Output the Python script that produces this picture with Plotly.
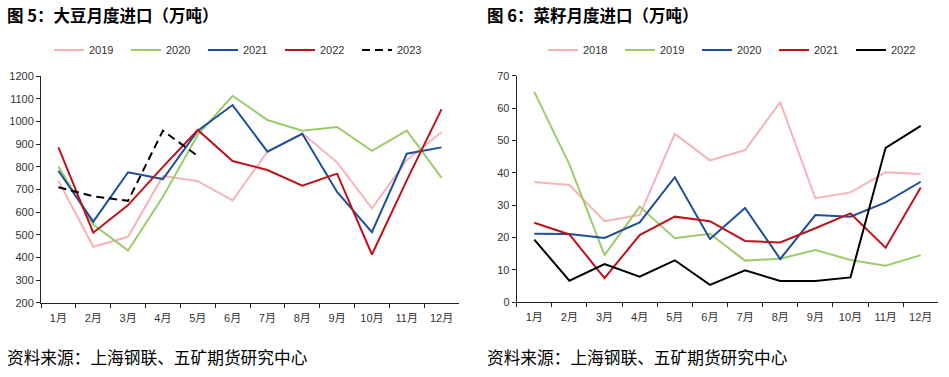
import plotly.graph_objects as go

months = ["1月", "2月", "3月", "4月", "5月", "6月", "7月", "8月", "9月", "10月", "11月", "12月"]

# 图5 大豆月度进口（万吨）
soy_2019 = [739, 447, 491, 760, 737, 652, 867, 948, 820, 617, 830, 954]
soy_2020 = [801, 545, 430, 668, 941, 1114, 1007, 960, 976, 871, 960, 751]
soy_2021 = [783, 558, 776, 746, 960, 1073, 867, 946, 689, 512, 858, 886]
soy_2022 = [886, 509, 631, 800, 963, 826, 786, 717, 770, 413, 740, 1055]
soy_2023 = [710, 670, 650, 960, 848]

# 图6 菜籽月度进口（万吨）
rape_2018 = [37.1, 36.2, 25.0, 26.9, 52.0, 43.8, 47.0, 61.8, 32.1, 33.9, 40.1, 39.6]
rape_2019 = [65.0, 42.6, 14.5, 29.5, 19.7, 21.1, 12.8, 13.4, 16.1, 13.0, 11.2, 14.5]
rape_2020 = [21.1, 21.0, 19.8, 24.6, 38.6, 19.5, 29.1, 13.3, 26.9, 26.4, 30.8, 37.2]
rape_2021 = [24.5, 20.9, 7.4, 20.7, 26.4, 25.0, 18.9, 18.4, 22.8, 27.4, 16.8, 35.4]
rape_2022 = [19.3, 6.6, 11.7, 7.8, 12.9, 5.3, 9.8, 6.5, 6.5, 7.6, 47.7, 54.5]

PINK = "#F5B4B7"
GREEN = "#9CCB6C"
BLUE = "#1F4E9A"
RED = "#C0121B"
BLACK = "#000000"

fig = go.Figure()

left = [("2019", soy_2019, PINK, None), ("2020", soy_2020, GREEN, None),
        ("2021", soy_2021, BLUE, None), ("2022", soy_2022, RED, None),
        ("2023", soy_2023, BLACK, "8px,5px")]
for name, vals, col, dash in left:
    fig.add_trace(go.Scatter(x=months[:len(vals)], y=vals, name=name, mode="lines",
                             line=dict(color=col, width=2, dash=dash),
                             xaxis="x", yaxis="y", legend="legend"))

right = [("2018", rape_2018, PINK), ("2019", rape_2019, GREEN), ("2020", rape_2020, BLUE),
         ("2021", rape_2021, RED), ("2022", rape_2022, BLACK)]
for name, vals, col in right:
    fig.add_trace(go.Scatter(x=months, y=vals, name=name, mode="lines",
                             line=dict(color=col, width=2),
                             xaxis="x2", yaxis="y2", legend="legend2"))

W, H = 949, 377
def px_x(p):
    return p / W
def px_y(p):
    return 1 - p / H

tickfont = dict(family="Liberation Sans, Arial, Noto Sans CJK SC", size=11, color="#333333")
axis_common = dict(showgrid=False, zeroline=False, showline=True, linecolor="#222222", linewidth=1,
                   ticks="outside", ticklen=4, tickcolor="#222222", tickfont=tickfont,
                   fixedrange=True, automargin=False)

legend_common = dict(orientation="h", xanchor="left", yanchor="middle",
                     entrywidth=32, entrywidthmode="pixels", bgcolor="rgba(0,0,0,0)",
                     borderwidth=0, tracegroupgap=0,
                     font=dict(family="Liberation Sans, Arial", size=11, color="#333333"))

fig.update_layout(
    width=W, height=H,
    margin=dict(l=0, r=0, t=0, b=0),
    paper_bgcolor="white", plot_bgcolor="white",
    showlegend=True,
    xaxis=dict(domain=[px_x(41), px_x(459)], anchor="y", type="category", tickangle=0,
               tickson="boundaries", range=[-0.5, 11.5], ticklabelstandoff=5, **axis_common),
    yaxis=dict(domain=[px_y(302.7), px_y(76.3)], anchor="x", range=[200, 1200], dtick=100,
               **axis_common),
    xaxis2=dict(domain=[px_x(516.7), px_x(938.3)], anchor="y2", type="category", tickangle=0,
                tickson="boundaries", range=[-0.5, 11.5], ticklabelstandoff=5, **axis_common),
    yaxis2=dict(domain=[px_y(302), px_y(75.7)], anchor="x2", range=[0, 70], dtick=10,
                **axis_common),
    legend=dict(x=px_x(49), y=px_y(50), **legend_common),
    legend2=dict(x=px_x(543), y=px_y(50), **legend_common),
)

title_font = dict(family="Noto Sans CJK SC", size=16.5, color="#000000")
src_font = dict(family="Noto Sans CJK SC", size=16.7, color="#000000")
annots = [
    ("<b>图 5：大豆月度进口（万吨）</b>", 5, 15, title_font),
    ("<b>图 6：菜籽月度进口（万吨）</b>", 485, 15, title_font),
    ("资料来源：上海钢联、五矿期货研究中心", 5, 357, src_font),
    ("资料来源：上海钢联、五矿期货研究中心", 485, 357, src_font),
]
for text, x, y, f in annots:
    fig.add_annotation(text=text, x=px_x(x), y=px_y(y), xref="paper", yref="paper",
                       xanchor="left", yanchor="middle", showarrow=False, font=f)

fig.write_html("out.html", config={"displayModeBar": False},
               post_script="document.body.style.margin='0';")
